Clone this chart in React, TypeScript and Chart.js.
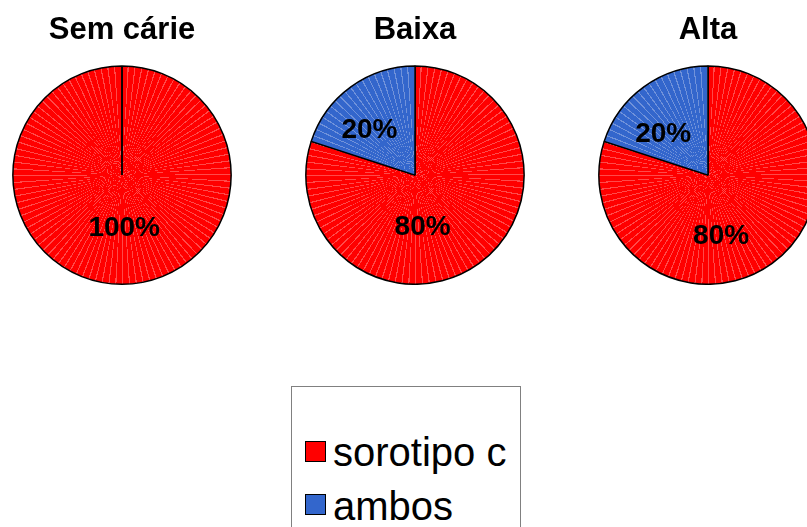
import React, { useEffect, useRef } from 'react';
import { Chart, registerables } from 'chart.js';

Chart.register(...registerables);

// ---- data ----
const groups = ['Sem cárie', 'Baixa', 'Alta'];
const seriesNames = ['sorotipo c', 'ambos'];
const sorotipoC = [100, 80, 80];
const ambos = [0, 20, 20];
const seriesColors = ['#FF0000', '#3366CC'];
const stripeColors = ['#FF4A4A', '#7092DA'];

// label placement relative to the pie centre, in fractions of the radius
const labelPlacement: number[][][] = [
  [[0.02, 0.49], [0, 0]],
  [[0.07, 0.48], [-0.417, -0.412]],
  [[0.12, 0.56], [-0.41, -0.376]],
];

const FONT = "'Liberation Sans', Arial, Helvetica, sans-serif";

const CANVAS_W = 240;
const CANVAS_H = 285;
const pieCentersX = [122, 415, 708];

function stripedFill(c: any) {
  const index = c.dataIndex ?? 0;
  const chart = c.chart;
  const area = chart.chartArea;
  if (!area || typeof chart.ctx.createConicGradient !== 'function') return seriesColors[index];
  const cx = (area.left + area.right) / 2;
  const cy = (area.top + area.bottom) / 2;
  const g = chart.ctx.createConicGradient(-Math.PI / 2, cx, cy);
  const n = 100;
  for (let k = 0; k < n; k++) {
    const a = k / n;
    const b = (k + 0.82) / n;
    const e = (k + 1) / n;
    g.addColorStop(a, seriesColors[index]);
    g.addColorStop(b, seriesColors[index]);
    g.addColorStop(b, stripeColors[index]);
    g.addColorStop(Math.min(e, 1), stripeColors[index]);
  }
  return g;
}

const pieExtras = {
  id: 'pieExtras',
  afterDatasetsDraw(chart: any, _args: any, opts: any) {
    const ctx = chart.ctx;
    const meta = chart.getDatasetMeta(0);
    const data = chart.data.datasets[0].data as number[];
    const total = data.reduce((a, b) => a + b, 0);
    meta.data.forEach((arc: any) => {
      const p = arc.getProps(['x', 'y', 'startAngle', 'endAngle', 'outerRadius'], true);
      if (p.endAngle - p.startAngle >= Math.PI * 2 - 1e-6) {
        ctx.save();
        ctx.strokeStyle = '#000';
        ctx.lineWidth = 1.5;
        ctx.beginPath();
        ctx.moveTo(p.x, p.y);
        ctx.lineTo(p.x + Math.cos(p.startAngle) * p.outerRadius, p.y + Math.sin(p.startAngle) * p.outerRadius);
        ctx.stroke();
        ctx.restore();
      }
    });
    meta.data.forEach((arc: any, i: number) => {
      const v = data[i];
      if (!v) return;
      const p = arc.getProps(['x', 'y', 'outerRadius'], true);
      const pos = opts.placement[i];
      ctx.save();
      ctx.fillStyle = '#000';
      ctx.font = `bold 28px ${FONT}`;
      ctx.textAlign = 'center';
      ctx.textBaseline = 'middle';
      ctx.fillText(Math.round((v / total) * 100) + '%', p.x + pos[0] * p.outerRadius, p.y + pos[1] * p.outerRadius);
      ctx.restore();
    });
  },
};

function PieChart({ idx }: { idx: number }) {
  const ref = useRef<HTMLCanvasElement>(null);
  useEffect(() => {
    if (!ref.current) return;
    const chart = new Chart(ref.current, {
      type: 'pie',
      data: {
        labels: seriesNames,
        datasets: [
          {
            data: [sorotipoC[idx], ambos[idx]],
            backgroundColor: stripedFill as any,
            borderColor: '#000',
            borderWidth: 1.5,
          },
        ],
      },
      options: {
        responsive: false,
        animation: false,
        devicePixelRatio: 1,
        layout: { padding: { left: 10, right: 10 } },
        plugins: {
          legend: { display: false },
          tooltip: { enabled: false },
          title: {
            display: true,
            text: groups[idx],
            color: '#000',
            font: { size: 31, weight: 'bold', family: FONT },
            padding: { top: 12, bottom: 16 },
          },
          pieExtras: { placement: labelPlacement[idx] },
        } as any,
      },
      plugins: [pieExtras],
    });
    return () => chart.destroy();
  }, [idx]);
  return (
    <canvas
      ref={ref}
      width={CANVAS_W}
      height={CANVAS_H}
      style={{ position: 'absolute', left: pieCentersX[idx] - CANVAS_W / 2, top: 0, width: CANVAS_W, height: CANVAS_H }}
    />
  );
}

export default function App() {
  return (
    <div
      style={{
        position: 'fixed',
        left: 0,
        top: 0,
        width: 807,
        height: 527,
        overflow: 'hidden',
        background: '#fff',
      }}
    >
      {groups.map((_, i) => (
        <PieChart key={i} idx={i} />
      ))}
      <div
        style={{
          position: 'absolute',
          left: 291,
          top: 386,
          width: 228,
          height: 200,
          border: '1px solid #808080',
          boxSizing: 'content-box',
        }}
      >
        {seriesNames.map((name, i) => (
          <React.Fragment key={name}>
            <div
              style={{
                position: 'absolute',
                left: 13,
                top: 54 + i * 53,
                width: 19,
                height: 19,
                background: seriesColors[i],
                border: '1px solid #000',
              }}
            />
            <span
              style={{
                position: 'absolute',
                left: 41,
                top: 45 + i * 54,
                fontFamily: FONT,
                fontSize: 40,
                lineHeight: '40px',
                color: '#000',
                whiteSpace: 'nowrap',
              }}
            >
              {name}
            </span>
          </React.Fragment>
        ))}
      </div>
    </div>
  );
}
